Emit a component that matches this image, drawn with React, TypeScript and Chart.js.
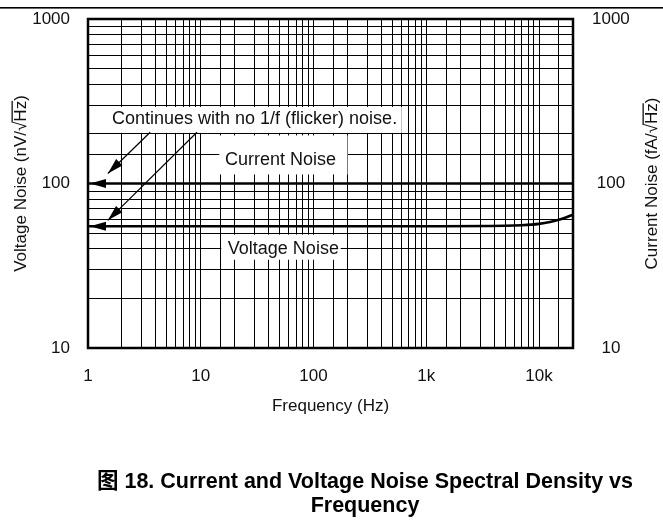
import React, { useEffect, useRef } from 'react';
import { Chart, registerables } from 'chart.js';

Chart.register(...registerables);

// ---- data ----
const currentFreq = [1, 20000];
const currentNoise = [100, 100];
const voltageFreq = [1, 1000, 5000, 7000, 10000, 12500, 15000, 17500, 20000];
const voltageNoise = [55, 55, 55.3, 55.7, 56.8, 58.3, 60.2, 62.3, 64.7];

const xRange = [1, 20000];
const yRange = [10, 1000];
const xTickValues = [1, 10, 100, 1000, 10000];
const xTickLabels = ['1', '10', '100', '1k', '10k'];
const yTickValues = [10, 100, 1000];
const yTickLabels = ['10', '100', '1000'];

// annotation anchors in data units (Hz, noise)
const noteTexts = ['Continues with no 1/f (flicker) noise.', 'Current Noise', 'Voltage Noise'];
const noteX = [30, 51, 54];
const noteY = [245, 138, 40];
const boxX0 = [1, 14.3, 14.9];
const boxX1 = [606, 200, 174];
const boxY0 = [203, 113.5, 34.4];
const boxY1 = [292, 196, 48.9];
const arrowFromX = [3.56, 9.25];
const arrowFromY = [205, 205];
const arrowToX = [1.5, 1.5];
const arrowToY = [115, 59.7];

const FONT = '"Liberation Sans", Arial, "Noto Sans CJK SC", sans-serif';

function arrowHead(ctx: CanvasRenderingContext2D, fx: number, fy: number, tx: number, ty: number, len: number, half: number) {
  const dx = tx - fx, dy = ty - fy;
  const d = Math.hypot(dx, dy) || 1;
  const ux = dx / d, uy = dy / d;
  const bx = tx - ux * len, by = ty - uy * len;
  ctx.beginPath();
  ctx.moveTo(tx, ty);
  ctx.lineTo(bx - uy * half, by + ux * half);
  ctx.lineTo(bx + uy * half, by - ux * half);
  ctx.closePath();
  ctx.fill();
}

function radTitle(ctx: CanvasRenderingContext2D, cx: number, cy: number, size: number, pre: string, rad: string, post: string) {
  ctx.save();
  ctx.translate(cx, cy);
  ctx.rotate(-Math.PI / 2);
  ctx.font = `${size}px ${FONT}`;
  ctx.textAlign = 'left';
  ctx.textBaseline = 'alphabetic';
  const full = pre + rad + post;
  const w = ctx.measureText(full).width;
  const sx = -w / 2;
  const base = size * 0.36;
  ctx.fillStyle = '#111';
  ctx.fillText(full, sx, base);
  const wp = ctx.measureText(pre).width;
  const wr = ctx.measureText(rad).width;
  ctx.fillRect(sx + wp - 1, base - size * 0.86, wr + 1, 1.3);
  ctx.restore();
}

const overlay = {
  id: 'overlay',
  beforeDatasetsDraw(chart: any) {
    const { ctx } = chart;
    const x = chart.scales.x, y = chart.scales.y;
    ctx.save();
    ctx.fillStyle = '#fff';
    for (let i = 0; i < boxX0.length; i++) {
      const l = x.getPixelForValue(boxX0[i]) + 1;
      const r = x.getPixelForValue(boxX1[i]);
      const t = y.getPixelForValue(boxY1[i]);
      const b = y.getPixelForValue(boxY0[i]);
      ctx.fillRect(l, t, r - l, b - t);
    }
    ctx.restore();
  },
  afterDatasetsDraw(chart: any) {
    const { ctx, chartArea: ca } = chart;
    const x = chart.scales.x, y = chart.scales.y;
    ctx.save();
    ctx.strokeStyle = '#000';
    ctx.lineWidth = 2.5;
    ctx.strokeRect(ca.left, ca.top, ca.right - ca.left, ca.bottom - ca.top);
    ctx.fillStyle = '#000';
    // left-pointing arrowheads at start of each series
    chart.data.datasets.forEach((ds: any) => {
      const p = ds.data[0];
      const px = x.getPixelForValue(p.x);
      const py = y.getPixelForValue(p.y);
      arrowHead(ctx, px + 20, py, px + 2, py, 16, 4.5);
    });
    // pointer arrows from the note
    ctx.lineWidth = 1.2;
    for (let i = 0; i < arrowFromX.length; i++) {
      const fx = x.getPixelForValue(arrowFromX[i]);
      const fy = y.getPixelForValue(arrowFromY[i]);
      const tx = x.getPixelForValue(arrowToX[i]);
      const ty = y.getPixelForValue(arrowToY[i]);
      ctx.beginPath();
      ctx.moveTo(fx, fy);
      ctx.lineTo(tx, ty);
      ctx.stroke();
      arrowHead(ctx, fx, fy, tx, ty, 16, 4.5);
    }
    // note texts
    ctx.font = `18px ${FONT}`;
    ctx.textAlign = 'center';
    ctx.textBaseline = 'middle';
    ctx.fillStyle = '#111';
    for (let i = 0; i < noteTexts.length; i++) {
      ctx.fillText(noteTexts[i], x.getPixelForValue(noteX[i]), y.getPixelForValue(noteY[i]));
    }
    ctx.restore();
  },
  afterDraw(chart: any) {
    const { ctx, chartArea: ca } = chart;
    ctx.save();
    // page rule at the top
    ctx.fillStyle = '#000';
    ctx.fillRect(0, 7, chart.width, 1.6);
    // axis titles
    radTitle(ctx, 20, (ca.top + ca.bottom) / 2, 17, 'Voltage Noise (nV/\u221A', 'Hz', ')');
    radTitle(ctx, 651, (ca.top + ca.bottom) / 2, 17, 'Current Noise (fA/\u221A', 'Hz', ')');
    ctx.font = `17px ${FONT}`;
    ctx.textAlign = 'center';
    ctx.textBaseline = 'middle';
    ctx.fillStyle = '#111';
    ctx.fillText('Frequency (Hz)', (ca.left + ca.right) / 2, 406);
    // caption
    ctx.font = `bold 21.5px ${FONT}`;
    ctx.fillStyle = '#000';
    ctx.fillText('\u56FE 18. Current and Voltage Noise Spectral Density vs', 365, 482);
    ctx.fillText('Frequency', 365, 506);
    ctx.restore();
  },
};

function labelFor(values: number[], labels: string[]) {
  return (v: any) => {
    const idx = values.findIndex((t) => Math.abs(t - Number(v)) < 1e-9 * t);
    return idx >= 0 ? labels[idx] : '';
  };
}

export default function App() {
  const ref = useRef<HTMLCanvasElement>(null);
  useEffect(() => {
    if (!ref.current) return;
    const tickFont = { family: FONT, size: 17 };
    const fitY = (w: number) => (s: any) => {
      s.width = w;
      s.paddingTop = 0;
      s.paddingBottom = 0;
    };
    const chart = new Chart(ref.current, {
      type: 'line',
      data: {
        datasets: [
          {
            label: 'Current Noise',
            data: currentFreq.map((f, i) => ({ x: f, y: currentNoise[i] })),
            borderColor: '#000',
            borderWidth: 2.6,
            pointRadius: 0,
            yAxisID: 'y',
          },
          {
            label: 'Voltage Noise',
            data: voltageFreq.map((f, i) => ({ x: f, y: voltageNoise[i] })),
            borderColor: '#000',
            borderWidth: 2.6,
            pointRadius: 0,
            cubicInterpolationMode: 'monotone',
            yAxisID: 'y',
          },
        ],
      },
      options: {
        responsive: false,
        animation: false,
        layout: { padding: { top: 19, left: 0, right: 0, bottom: 0 } },
        plugins: { legend: { display: false }, tooltip: { enabled: false } },
        scales: {
          x: {
            type: 'logarithmic',
            min: xRange[0],
            max: xRange[1],
            border: { display: false },
            grid: { color: '#000', lineWidth: 1, drawTicks: false },
            ticks: {
              autoSkip: false,
              maxRotation: 0,
              padding: 18,
              color: '#111',
              font: tickFont,
              callback: labelFor(xTickValues, xTickLabels),
            },
            afterFit: (s: any) => {
              s.height = 175;
              s.paddingLeft = 0;
              s.paddingRight = 0;
            },
          },
          y: {
            type: 'logarithmic',
            position: 'left',
            min: yRange[0],
            max: yRange[1],
            border: { display: false },
            grid: { color: '#000', lineWidth: 1, drawTicks: false },
            ticks: {
              autoSkip: false,
              padding: 18,
              color: '#111',
              font: tickFont,
              callback: labelFor(yTickValues, yTickLabels),
            },
            afterFit: fitY(88),
          },
          y2: {
            type: 'logarithmic',
            position: 'right',
            min: yRange[0],
            max: yRange[1],
            border: { display: false },
            grid: { display: false, drawTicks: false },
            ticks: {
              autoSkip: false,
              padding: 19,
              crossAlign: 'center',
              color: '#111',
              font: tickFont,
              callback: labelFor(yTickValues, yTickLabels),
            },
            afterFit: fitY(90),
          },
        },
      },
      plugins: [overlay],
    } as any);
    return () => chart.destroy();
  }, []);
  return (
    <div style={{ position: 'absolute', left: 0, top: 0, width: 663, height: 523, background: '#fff' }}>
      <canvas ref={ref} width={663} height={523} style={{ width: 663, height: 523 }} />
    </div>
  );
}
